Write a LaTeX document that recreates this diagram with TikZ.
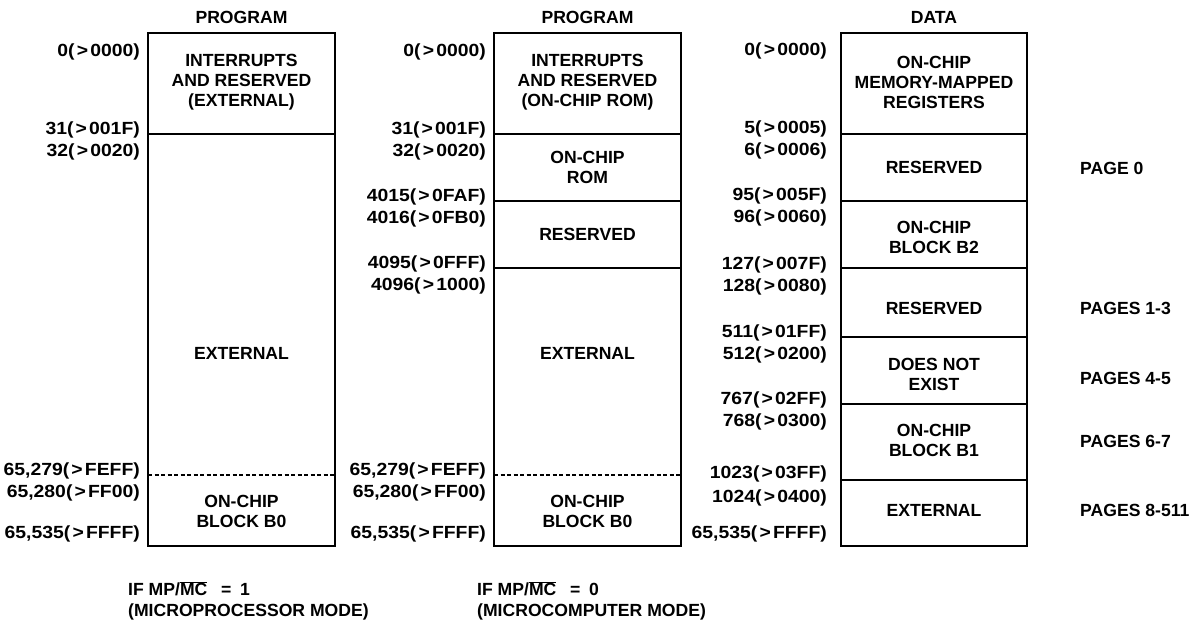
\documentclass[tikz,border=0pt]{standalone}
\usepackage{fontspec}
\setmainfont{Liberation Sans}
\newfontfamily\lblfont{Liberation Sans}[FakeStretch=1.1]
\newcommand\adr[2]{#1(\kern2.2pt>\kern2.2pt#2)}
\begin{document}
\begin{tikzpicture}[x=1pt,y=-1pt,
  every node/.style={font=\fontsize{17.6}{20}\selectfont\bfseries, inner sep=0pt},
  region/.style={align=center},
  addr/.style={anchor=base east, font=\fontsize{17.6}{20}\selectfont\bfseries\lblfont},
  pagelbl/.style={anchor=base west},
  note/.style={align=left, anchor=west, font=\fontsize{17.6}{21}\selectfont\bfseries},
  boxline/.style={line width=1.7pt},
  divline/.style={line width=1.5pt},
  dashdiv/.style={line width=1.1pt, dash pattern=on 4pt off 2.5pt}]
\useasboundingbox (0,0) rectangle (1200,622);

% ---------- column 1 : PROGRAM (microprocessor mode)
\node (t1) at (241.5,17) {PROGRAM};
\draw[boxline] (148,33) rectangle (335,546);
\draw[divline] (148,134) -- (335,134);
\draw[dashdiv] (148,475) -- (335,475);
\node[region] (a1) at (241.5,82) {INTERRUPTS\\AND RESERVED\\(EXTERNAL)};
\node (a2) at (241.5,353) {EXTERNAL};
\node[region] (a3) at (241.5,511) {ON-CHIP\\BLOCK B0};
\node[addr] (l11) at (140,56) {\adr{0}{0000}};
\node[addr] (l12) at (140,134) {\adr{31}{001F}};
\node[addr] (l13) at (140,156) {\adr{32}{0020}};
\node[addr] (l14) at (140,475) {\adr{65,279}{FEFF}};
\node[addr] (l15) at (140,497) {\adr{65,280}{FF00}};
\node[addr] (l16) at (140,538) {\adr{65,535}{FFFF}};
\node[note] (n1) at (128,601) {IF MP/$\overline{\mbox{MC}}$ \enspace=\enspace 1\\(MICROPROCESSOR MODE)};

% ---------- column 2 : PROGRAM (microcomputer mode)
\node (t2) at (587.5,17) {PROGRAM};
\draw[boxline] (494,33) rectangle (681,546);
\draw[divline] (494,134) -- (681,134);
\draw[divline] (494,201) -- (681,201);
\draw[divline] (494,268) -- (681,268);
\draw[dashdiv] (494,475) -- (681,475);
\node[region] (b1) at (587.5,82) {INTERRUPTS\\AND RESERVED\\(ON-CHIP ROM)};
\node[region] (b2) at (587.5,167.5) {ON-CHIP\\ROM};
\node (b3) at (587.5,234) {RESERVED};
\node (b4) at (587.5,353) {EXTERNAL};
\node[region] (b5) at (587.5,511) {ON-CHIP\\BLOCK B0};
\node[addr] (l21) at (486,56) {\adr{0}{0000}};
\node[addr] (l22) at (486,134) {\adr{31}{001F}};
\node[addr] (l23) at (486,156) {\adr{32}{0020}};
\node[addr] (l24) at (486,201) {\adr{4015}{0FAF}};
\node[addr] (l25) at (486,223) {\adr{4016}{0FB0}};
\node[addr] (l26) at (486,268) {\adr{4095}{0FFF}};
\node[addr] (l27) at (486,290) {\adr{4096}{1000}};
\node[addr] (l28) at (486,475) {\adr{65,279}{FEFF}};
\node[addr] (l29) at (486,497) {\adr{65,280}{FF00}};
\node[addr] (l2a) at (486,538) {\adr{65,535}{FFFF}};
\node[note] (n2) at (477,601) {IF MP/$\overline{\mbox{MC}}$ \enspace=\enspace 0\\(MICROCOMPUTER MODE)};

% ---------- column 3 : DATA
\node (t3) at (934,17) {DATA};
\draw[boxline] (841,33) rectangle (1027,546);
\foreach \yy in {134,201,268,337,404,480}
  \draw[divline] (841,\yy) -- (1027,\yy);
\node[region] (c1) at (934,82.5) {ON-CHIP\\MEMORY-MAPPED\\REGISTERS};
\node (c2) at (934,167) {RESERVED};
\node[region] (c3) at (934,237.5) {ON-CHIP\\BLOCK B2};
\node (c4) at (934,308) {RESERVED};
\node[region] (c5) at (934,374) {DOES NOT\\EXIST};
\node[region] (c6) at (934,440) {ON-CHIP\\BLOCK B1};
\node (c7) at (934,510) {EXTERNAL};
\node[addr] (l31) at (827,55) {\adr{0}{0000}};
\node[addr] (l32) at (827,133) {\adr{5}{0005}};
\node[addr] (l33) at (827,155) {\adr{6}{0006}};
\node[addr] (l34) at (827,200) {\adr{95}{005F}};
\node[addr] (l35) at (827,222) {\adr{96}{0060}};
\node[addr] (l36) at (827,269) {\adr{127}{007F}};
\node[addr] (l37) at (827,291) {\adr{128}{0080}};
\node[addr] (l38) at (827,337) {\adr{511}{01FF}};
\node[addr] (l39) at (827,359) {\adr{512}{0200}};
\node[addr] (l3a) at (827,404) {\adr{767}{02FF}};
\node[addr] (l3b) at (827,426) {\adr{768}{0300}};
\node[addr] (l3c) at (827,478) {\adr{1023}{03FF}};
\node[addr] (l3d) at (827,502) {\adr{1024}{0400}};
\node[addr] (l3e) at (827,538) {\adr{65,535}{FFFF}};
\node[pagelbl] (p0) at (1080,174) {PAGE 0};
\node[pagelbl] (p1) at (1080,314) {PAGES 1-3};
\node[pagelbl] (p2) at (1080,384) {PAGES 4-5};
\node[pagelbl] (p3) at (1080,447) {PAGES 6-7};
\node[pagelbl] (p4) at (1080,516) {PAGES 8-511};
\end{tikzpicture}
\end{document}
